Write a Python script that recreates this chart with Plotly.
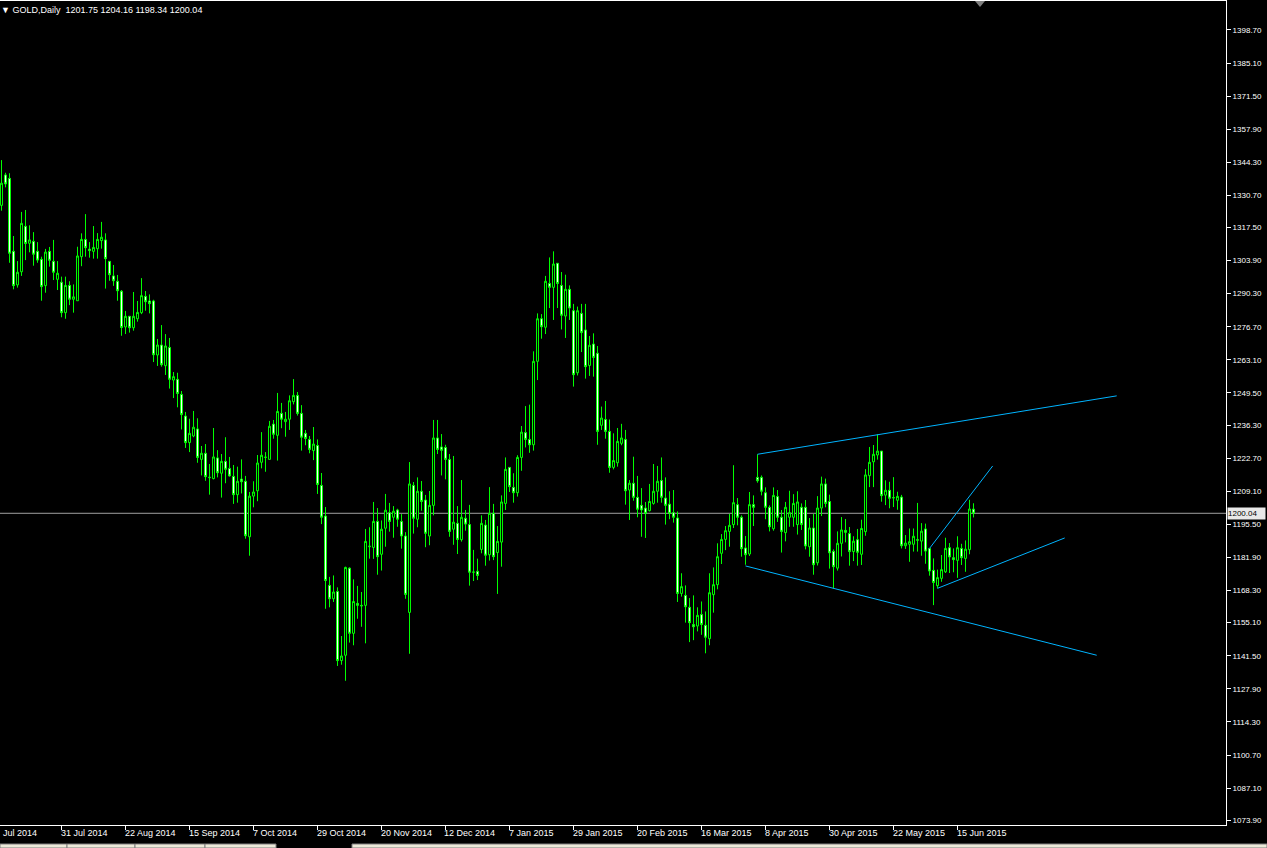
import plotly.graph_objects as go

# ---------------- data (GOLD, Daily) ----------------
open_ = [1326.6,1339.1,1337.7,1307.7,1293.9,1299.3,1318.0,1311.0,1311.8,1307.7,
         1304.4,1293.6,1307.7,1303.6,1296.2,1295.0,1282.5,1293.7,1288.0,1287.4,
         1305.5,1312.6,1308.6,1307.7,1308.8,1312.1,1312.4,1303.6,1297.6,1295.4,
         1291.3,1276.6,1281.0,1276.3,1280.0,1282.5,1289.2,1287.3,1287.3,1265.1,
         1269.2,1260.7,1268.2,1254.8,1255.1,1248.9,1240.0,1229.1,1231.8,1234.7,
         1222.2,1224.7,1214.9,1214.3,1222.8,1216.5,1221.4,1218.5,1215.2,1207.7,
         1214.1,1213.2,1190.4,1207.1,1209.3,1221.0,1223.0,1222.2,1236.7,1232.1,
         1241.1,1237.7,1238.7,1245.9,1248.5,1241.1,1232.9,1230.4,1225.8,1227.9,
         1211.5,1198.9,1170.4,1164.9,1167.9,1139.5,1141.7,1177.5,1150.7,1163.0,
         1162.2,1162.2,1186.3,1186.0,1196.7,1183.2,1193.9,1200.3,1198.4,1201.4,
         1196.7,1190.7,1159.3,1211.5,1197.6,1209.1,1205.5,1190.7,1203.3,1231.0,
         1227.3,1227.1,1222.2,1193.5,1195.9,1189.2,1198.0,1195.4,1175.8,1176.2,
         1185.2,1195.2,1183.0,1200.0,1183.9,1188.2,1204.1,1218.9,1210.7,1208.5,
         1223.0,1233.2,1230.4,1228.2,1262.5,1280.0,1276.5,1294.5,1292.9,1302.8,
         1293.7,1281.1,1292.1,1283.3,1257.8,1282.2,1275.4,1260.8,1269.6,1265.8,
         1236.2,1238.6,1233.7,1218.9,1220.8,1228.8,1230.4,1209.6,1212.4,1206.6,
         1203.3,1202.2,1201.1,1204.1,1209.1,1213.5,1206.3,1203.8,1200.3,1198.1,
         1167.1,1166.3,1161.4,1154.3,1153.7,1158.4,1154.0,1148.5,1166.6,1170.7,
         1183.6,1189.3,1192.6,1195.4,1203.6,1198.4,1185.8,1183.3,1203.6,1214.8,
         1214.8,1208.5,1202.5,1193.7,1206.9,1198.4,1192.1,1198.4,1198.4,1195.4,
         1202.5,1202.5,1186.3,1194.0,1179.7,1202.2,1212.1,1204.9,1184.4,1177.5,
         1187.7,1193.0,1191.7,1184.3,1189.2,1183.2,1192.5,1215.5,1221.2,1224.0,
         1225.6,1207.5,1209.5,1206.5,1205.4,1206.7,1186.7,1187.3,1187.3,1189.2,
         1188.6,1193.6,1185.6,1176.6,1170.3,1173.3,1176.0,1185.9,1181.8,1180.7,
         1185.6,1181.5,1185.1,1201.75]
high = [1345.2,1340.0,1339.8,1314.0,1303.7,1323.9,1324.7,1318.4,1315.6,1311.5,
        1305.5,1308.7,1309.5,1312.4,1303.7,1297.3,1297.3,1295.4,1294.1,1309.6,
        1315.1,1323.0,1311.5,1318.1,1315.2,1319.8,1315.1,1303.6,1302.1,1298.0,
        1291.8,1283.2,1281.0,1291.0,1287.3,1296.7,1291.4,1290.0,1287.8,1271.7,
        1277.4,1273.7,1272.1,1258.1,1257.8,1250.3,1241.7,1238.9,1242.1,1239.1,
        1227.7,1228.5,1220.3,1235.1,1226.0,1224.4,1231.3,1223.2,1219.9,1219.2,
        1222.2,1215.4,1208.8,1213.2,1224.0,1233.4,1225.2,1238.0,1238.4,1249.5,
        1245.4,1241.7,1248.5,1255.2,1249.9,1244.5,1234.3,1231.8,1235.5,1230.4,
        1216.6,1202.6,1173.9,1174.5,1169.6,1149.6,1178.1,1177.8,1172.9,1170.2,
        1167.7,1193.6,1194.3,1204.7,1202.2,1197.1,1208.0,1204.3,1203.0,1201.9,
        1199.7,1192.3,1221.1,1212.9,1214.8,1213.3,1207.6,1209.2,1238.4,1238.4,
        1232.6,1228.2,1224.4,1223.6,1203.0,1213.7,1201.4,1203.5,1185.0,1181.4,
        1199.2,1197.3,1210.8,1203.9,1194.8,1207.4,1223.0,1218.9,1216.5,1223.9,
        1235.9,1244.1,1244.7,1266.6,1282.2,1281.9,1297.6,1305.2,1307.7,1302.8,
        1299.2,1298.1,1293.7,1286.1,1285.0,1286.1,1286.1,1272.9,1274.0,1268.8,
        1243.9,1246.2,1238.6,1232.9,1235.1,1236.8,1234.3,1213.7,1223.3,1215.4,
        1210.4,1204.7,1212.1,1220.3,1219.5,1223.0,1214.8,1209.1,1209.6,1200.8,
        1175.4,1170.4,1165.2,1166.3,1161.4,1163.8,1159.7,1175.4,1177.8,1187.7,
        1191.5,1194.8,1199.8,1219.8,1206.3,1199.2,1190.7,1208.8,1207.4,1224.3,
        1215.6,1210.7,1203.3,1210.7,1209.6,1201.4,1204.7,1209.3,1207.9,1209.1,
        1204.1,1205.5,1198.1,1199.8,1207.1,1215.1,1214.3,1207.7,1185.2,1192.6,
        1198.5,1197.7,1194.4,1190.6,1193.6,1197.4,1218.2,1227.3,1228.1,1232.5,
        1225.6,1213.6,1213.0,1214.9,1208.9,1207.6,1191.1,1193.8,1193.8,1204.3,
        1196.0,1195.8,1185.6,1181.5,1176.9,1182.9,1190.0,1187.8,1185.6,1190.6,
        1187.5,1188.9,1205.6,1204.16]
low = [1324.4,1334.0,1303.0,1292.1,1292.8,1297.6,1304.1,1307.3,1301.8,1303.0,
       1287.4,1290.7,1301.4,1295.9,1291.8,1280.6,1280.0,1285.6,1282.5,1287.4,
       1301.6,1305.5,1305.1,1304.7,1304.7,1308.8,1292.4,1295.6,1293.5,1287.4,
       1273.0,1273.7,1274.3,1275.1,1278.8,1281.9,1283.3,1282.2,1262.2,1260.6,
       1260.3,1256.9,1251.3,1247.4,1243.6,1234.5,1226.9,1225.2,1231.3,1220.8,
       1215.6,1213.4,1207.7,1214.0,1214.8,1206.5,1212.4,1215.1,1203.9,1204.4,
       1208.2,1189.6,1182.6,1202.5,1205.0,1218.5,1217.1,1222.2,1230.7,1221.7,
       1235.0,1231.5,1234.3,1244.8,1240.2,1225.8,1228.0,1224.7,1221.9,1208.0,
       1195.6,1160.8,1161.4,1163.6,1137.3,1137.8,1131.2,1146.9,1145.8,1156.7,
       1153.4,1146.6,1181.4,1181.3,1174.8,1176.5,1186.3,1192.5,1190.0,1194.5,
       1185.5,1164.9,1142.3,1191.7,1194.3,1201.1,1186.1,1186.9,1199.2,1224.4,
       1215.6,1214.0,1190.4,1187.1,1183.3,1188.4,1192.9,1170.3,1172.2,1172.6,
       1183.6,1178.5,1180.6,1180.8,1166.9,1178.1,1201.4,1208.8,1204.4,1206.9,
       1217.5,1227.1,1224.9,1225.8,1254.8,1271.8,1273.7,1284.4,1279.5,1284.4,
       1275.6,1272.1,1279.5,1252.1,1256.7,1266.3,1255.4,1256.5,1256.2,1228.2,
       1234.3,1230.7,1216.7,1218.1,1219.2,1228.0,1203.6,1197.3,1205.2,1198.4,
       1190.4,1189.9,1200.8,1203.6,1204.4,1204.4,1195.4,1197.6,1196.2,1163.6,
       1165.8,1155.1,1147.1,1147.9,1151.5,1150.1,1142.5,1145.8,1159.2,1168.8,
       1179.2,1184.9,1186.3,1194.0,1195.1,1182.2,1178.9,1182.5,1194.8,1212.6,
       1207.4,1197.6,1192.6,1192.9,1196.5,1183.9,1188.5,1194.5,1194.5,1191.3,
       1193.2,1185.2,1182.2,1174.8,1178.6,1198.9,1202.5,1177.3,1169.1,1176.5,
       1182.3,1188.1,1178.5,1180.4,1178.5,1178.8,1190.8,1210.8,1210.8,1222.1,
       1204.8,1203.4,1202.1,1202.6,1201.5,1185.6,1185.4,1180.1,1184.3,1184.3,
       1182.6,1179.3,1174.4,1162.3,1169.2,1171.9,1175.5,1175.5,1175.8,1173.5,
       1178.8,1176.0,1183.2,1198.34]
close = [1335.7,1335.4,1306.9,1293.6,1299.1,1319.2,1310.9,1312.4,1306.5,1304.1,
         1293.2,1307.4,1304.0,1299.1,1298.7,1282.5,1293.7,1288.0,1289.0,1305.8,
         1312.6,1309.2,1308.0,1309.3,1312.6,1313.5,1304.7,1298.1,1295.6,1291.5,
         1276.4,1281.0,1276.3,1281.0,1282.6,1289.5,1287.0,1286.2,1265.2,1269.2,
         1261.1,1268.8,1255.1,1256.2,1249.3,1240.6,1229.1,1232.9,1235.4,1223.0,
         1224.7,1215.1,1214.7,1223.2,1216.7,1221.4,1218.1,1215.4,1207.7,1213.2,
         1213.0,1190.8,1207.1,1208.8,1220.7,1223.9,1223.1,1235.8,1232.5,1241.9,
         1238.7,1238.7,1246.3,1248.5,1241.1,1231.3,1230.8,1226.3,1228.5,1211.9,
         1198.4,1172.4,1164.9,1167.7,1139.5,1141.4,1177.8,1150.7,1163.8,1162.2,
         1162.0,1188.5,1186.5,1196.7,1182.2,1193.5,1201.3,1196.7,1200.9,1197.6,
         1190.7,1166.7,1212.1,1198.0,1209.1,1204.9,1191.8,1203.3,1231.0,1226.3,
         1225.9,1222.2,1192.6,1196.4,1189.3,1198.4,1195.6,1175.8,1175.9,1174.5,
         1195.9,1182.8,1200.0,1182.2,1188.5,1204.7,1218.1,1211.0,1208.5,1223.0,
         1233.4,1230.4,1228.2,1262.5,1280.0,1276.7,1295.4,1292.9,1302.5,1294.5,
         1281.4,1292.1,1284.4,1257.0,1283.3,1274.3,1260.3,1269.1,1264.1,1233.7,
         1239.2,1233.7,1218.9,1221.7,1229.6,1231.0,1209.3,1212.4,1206.6,1201.7,
         1201.4,1200.0,1204.9,1209.1,1213.2,1206.6,1203.3,1200.0,1198.4,1167.1,
         1169.9,1161.6,1155.1,1153.4,1158.1,1154.3,1149.1,1167.4,1170.7,1182.2,
         1189.3,1192.9,1195.1,1204.4,1198.4,1185.5,1183.0,1203.6,1202.5,1213.4,
         1209.1,1202.5,1194.5,1207.4,1198.4,1192.6,1202.5,1200.3,1204.1,1204.7,
         1195.4,1186.6,1194.0,1178.9,1202.2,1212.1,1204.1,1183.8,1178.1,1187.7,
         1193.2,1192.2,1184.3,1188.6,1184.0,1193.8,1215.8,1221.0,1224.3,1225.6,
         1207.3,1209.5,1206.2,1206.4,1207.0,1186.7,1187.8,1188.4,1190.6,1189.0,
         1192.7,1184.5,1176.3,1171.6,1173.6,1176.9,1185.6,1182.1,1181.0,1185.9,
         1181.8,1185.3,1201.8,1200.04]

bars = list(range(len(close)))

# first label is the part of "9 Jul 2014" that stays visible at the left edge
date_label_bars = [-1, 15, 31, 47, 63, 79, 95, 111, 127, 143, 159, 175, 191, 207, 223, 239]
date_labels = ["Jul 2014", "31 Jul 2014", "22 Aug 2014", "15 Sep 2014", "7 Oct 2014",
               "29 Oct 2014", "20 Nov 2014", "12 Dec 2014", "7 Jan 2015", "29 Jan 2015",
               "20 Feb 2015", "16 Mar 2015", "8 Apr 2015", "30 Apr 2015", "22 May 2015",
               "15 Jun 2015"]

price_ticks = [1398.70, 1385.10, 1371.50, 1357.90, 1344.30, 1330.70, 1317.50, 1303.90,
               1290.30, 1276.70, 1263.10, 1249.50, 1236.30, 1222.70, 1209.10, 1195.50,
               1181.90, 1168.30, 1155.10, 1141.50, 1127.90, 1114.30, 1100.70, 1087.10,
               1073.90]

# trend lines drawn on the chart: (bar index, price) end points
upper_line_x, upper_line_y = [189, 278.8], [1224.3, 1248.3]
lower_line_x, lower_line_y = [186, 273.8], [1178.4, 1141.7]
steep_line_x, steep_line_y = [232, 247.8], [1185.6, 1219.5]
support_line_x, support_line_y = [234, 265.8], [1169.2, 1189.9]

bid = close[-1]
symbol = "GOLD,Daily"

# ---------------- figure ----------------
W, H = 1267, 848
ML, MR, MT, MB = 0, 41, 1, 23
PH = H - MT - MB
PW = W - ML - MR
FONT = "Tahoma, 'Liberation Sans', Arial, sans-serif"
GREEN = "#00FF00"
BLUE = "#00B4FF"
XRANGE = [-0.375, 306.125]

fig = go.Figure()
fig.add_trace(go.Candlestick(
    x=bars, open=open_, high=high, low=low, close=close,
    increasing=dict(line=dict(color=GREEN, width=1), fillcolor="black"),
    decreasing=dict(line=dict(color=GREEN, width=1), fillcolor="white"),
    whiskerwidth=0, showlegend=False, hoverinfo="skip"))

for lx, ly in [(upper_line_x, upper_line_y), (lower_line_x, lower_line_y),
               (steep_line_x, steep_line_y), (support_line_x, support_line_y)]:
    fig.add_trace(go.Scatter(x=lx, y=ly, mode="lines", line=dict(color=BLUE, width=1),
                             showlegend=False, hoverinfo="skip"))

def py(pix):  # pixel row -> paper y
    return (H - MB - pix) / PH

def px(pix):
    return (pix - ML) / PW

def bar_to_paper(b):  # x-axis value -> paper x (same linear scale as the axis)
    return (b - XRANGE[0]) / (XRANGE[1] - XRANGE[0])

shapes = [
    dict(type="line", xref="paper", yref="y", x0=0, x1=1, y0=bid, y1=bid,
         line=dict(color="#A0A0A0", width=1), layer="below"),
    # chart-shift marker
    dict(type="path", xref="paper", yref="paper",
         path=f"M {px(975)},{py(1)} L {px(985)},{py(1)} L {px(980)},{py(7)} Z",
         fillcolor="#808080", line=dict(width=0)),
]
# tab strip at the bottom of the terminal window
for x0, x1 in [(0, 67), (67, 135), (135, 205), (205, 276), (352, 1267)]:
    shapes.append(dict(type="rect", xref="paper", yref="paper",
                       x0=px(x0), x1=px(x1), y0=py(848), y1=py(844),
                       fillcolor="#ECE9D8", line=dict(color="#7F7F7F", width=1)))

annotations = [
    dict(xref="paper", yref="paper", x=px(-1), y=py(3), xanchor="left", yanchor="top",
         text=f"▼ {symbol}  {open_[-1]:.2f} {high[-1]:.2f} {low[-1]:.2f} {close[-1]:.2f}",
         showarrow=False, font=dict(family=FONT, size=9, color="white")),
    dict(xref="paper", yref="y", x=1, y=bid, xanchor="left", yanchor="middle",
         text=f"{bid:.2f}", showarrow=False, xshift=1, width=37, height=11, align="left",
         font=dict(family=FONT, size=8, color="black"), bgcolor="#E8E8E8", borderpad=0),
]
for b, lab in zip(date_label_bars, date_labels):
    xp = bar_to_paper(b)
    shift = -3
    if xp < 0:          # label whose tick is left of the visible area: show its tail at the edge
        xp, shift = 0, 1
    annotations.append(dict(xref="paper", yref="paper", x=xp, y=0,
                            xanchor="left", yanchor="top", yshift=-1, xshift=shift,
                            text=lab, showarrow=False,
                            font=dict(family=FONT, size=9, color="white")))

fig.update_layout(
    width=W, height=H, margin=dict(l=ML, r=MR, t=MT, b=MB, autoexpand=False),
    paper_bgcolor="black", plot_bgcolor="black",
    shapes=shapes, annotations=annotations, showlegend=False,
    xaxis=dict(range=XRANGE, rangeslider=dict(visible=False),
               showgrid=False, zeroline=False, showline=True, mirror=True,
               linecolor="white", linewidth=1,
               tickmode="array", tickvals=[b for b in date_label_bars if b >= 0],
               showticklabels=False, ticks="outside", ticklen=4, tickcolor="white"),
    yaxis=dict(range=[1071.93, 1410.59], side="right", showgrid=False, zeroline=False,
               showline=True, linecolor="white", linewidth=1,
               tickmode="array", tickvals=price_ticks,
               ticktext=[f"{v:.2f}" for v in price_ticks],
               ticks="outside", ticklen=4, tickcolor="white",
               tickfont=dict(family=FONT, size=8, color="white")),
)

fig.write_html("out.html", config={"displayModeBar": False},
               post_script="document.body.style.margin='0';document.body.style.overflow='hidden';")
